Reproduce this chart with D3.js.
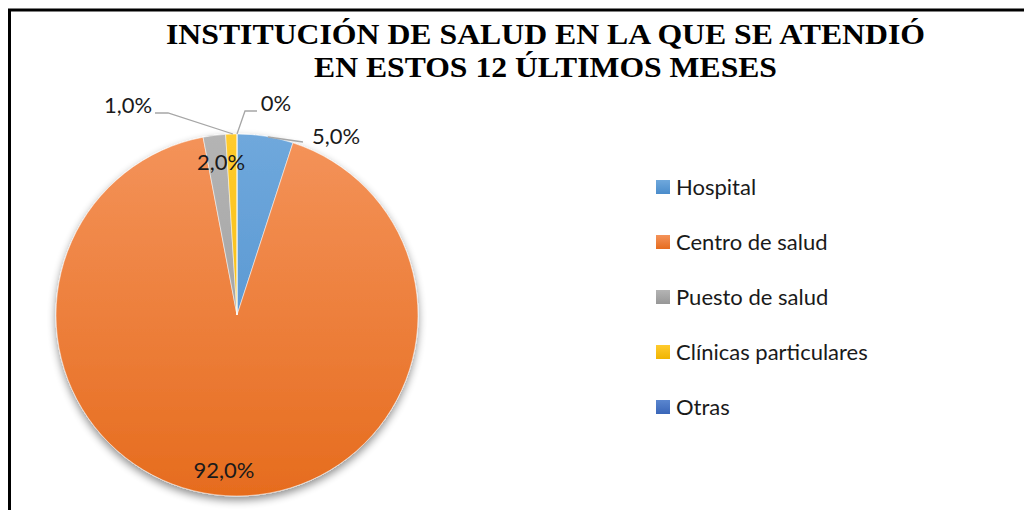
<!DOCTYPE html>
<html>
<head>
<meta charset="utf-8">
<script src="https://cdn.jsdelivr.net/npm/d3@7"></script>
<style>
  html, body { margin: 0; padding: 0; background: #fff; }
  svg { display: block; }
</style>
</head>
<body>
<div id="chart"></div>
<script>
const categories = ["Hospital", "Centro de salud", "Puesto de salud", "Clínicas particulares", "Otras"]
const values = [5.0, 92.0, 2.0, 1.0, 0.0]
const valueLabels = ["5,0%", "92,0%", "2,0%", "1,0%", "0%"]
const titleLines = ["INSTITUCIÓN DE SALUD EN LA QUE SE ATENDIÓ", "EN ESTOS 12 ÚLTIMOS MESES"]

// light / dark ends of each slice gradient
const colorsLight = ["#6fa8dc", "#f4935a", "#b4b4b4", "#ffcb2e", "#5a86cf"]
const colorsDark = ["#4a8ccb", "#e66c1e", "#979797", "#f0b400", "#3a66b8"]

const WIDTH = 1024, HEIGHT = 510
const CX = 237, CY = 315, R = 181

// label placement: offset from pie centre, plus optional leader line bend
const labelPlace = [
  { dx: 99, dy: -179, leader: [[31, -178], [66, -173]] },
  { dx: -13, dy: 155 },
  { dx: -16, dy: -153 },
  { dx: -109, dy: -210, leader: [[-4, -181], [-69, -202], [-82, -202]] },
  { dx: 39, dy: -212, leader: [[0, -181], [8, -204], [20, -204]] }
]

const svg = d3.select("#chart").append("svg")
  .attr("width", WIDTH)
  .attr("height", HEIGHT)

const defs = svg.append("defs")
categories.forEach((c, i) => {
  const g = defs.append("linearGradient")
    .attr("id", "grad" + i)
    .attr("gradientUnits", "userSpaceOnUse")
    .attr("x1", 0).attr("y1", -R).attr("x2", 0).attr("y2", R)
  g.append("stop").attr("offset", "0%").attr("stop-color", colorsLight[i])
  g.append("stop").attr("offset", "100%").attr("stop-color", colorsDark[i])
  const lg = defs.append("linearGradient")
    .attr("id", "lgrad" + i)
    .attr("x1", 0).attr("y1", 0).attr("x2", 0).attr("y2", 1)
  lg.append("stop").attr("offset", "0%").attr("stop-color", colorsLight[i])
  lg.append("stop").attr("offset", "100%").attr("stop-color", colorsDark[i])
})

const shadow = defs.append("filter").attr("id", "shadow")
  .attr("x", "-20%").attr("y", "-20%").attr("width", "140%").attr("height", "140%")
shadow.append("feGaussianBlur").attr("in", "SourceAlpha").attr("stdDeviation", 4)
shadow.append("feOffset").attr("dx", 0).attr("dy", 4).attr("result", "ob")
shadow.append("feComponentTransfer").append("feFuncA").attr("type", "linear").attr("slope", 0.45)
const merge = shadow.append("feMerge")
merge.append("feMergeNode")
merge.append("feMergeNode").attr("in", "SourceGraphic")

// frame (runs off right and bottom edge)
svg.append("rect")
  .attr("x", 9.5).attr("y", 10)
  .attr("width", WIDTH + 20).attr("height", HEIGHT + 20)
  .attr("fill", "none")
  .attr("stroke", "#000")
  .attr("stroke-width", 3)

// title
svg.append("g").selectAll("text")
  .data(titleLines)
  .join("text")
    .attr("x", 545.5)
    .attr("y", (d, i) => 43.5 + i * 33)
    .attr("text-anchor", "middle")
    .attr("font-family", "'Liberation Serif', 'Times New Roman', serif")
    .attr("font-weight", "bold")
    .attr("font-size", 30)
    .attr("textLength", (d, i) => i === 0 ? 759 : 463)
    .attr("lengthAdjust", "spacingAndGlyphs")
    .attr("fill", "#000")
    .text(d => d)

const pie = d3.pie().sort(null).value(d => d)
const arcs = pie(values)
const arc = d3.arc().innerRadius(0).outerRadius(R)

const g = svg.append("g").attr("transform", `translate(${CX}, ${CY})`)

const slices = g.append("g").attr("filter", "url(#shadow)")
slices.selectAll("path")
  .data(arcs)
  .join("path")
    .attr("d", arc)
    .attr("fill", (d, i) => `url(#grad${i})`)
    .attr("stroke", "#fff")
    .attr("stroke-width", 0.5)

// leader lines
g.selectAll("polyline")
  .data(arcs.map((d, i) => ({ d, p: labelPlace[i] })).filter(o => o.p.leader))
  .join("polyline")
    .attr("points", o => o.p.leader.map(pt => pt.join(",")).join(" "))
    .attr("fill", "none")
    .attr("stroke", "#a6a6a6")
    .attr("stroke-width", 1.3)

g.selectAll("text.lbl")
  .data(arcs)
  .join("text")
    .attr("class", "lbl")
    .attr("x", (d, i) => labelPlace[i].dx)
    .attr("y", (d, i) => labelPlace[i].dy)
    .attr("dy", "0.35em")
    .attr("text-anchor", "middle")
    .attr("font-family", "Lato, 'Open Sans', sans-serif")
    .attr("font-size", 22)
    .attr("fill", "#1a1a1a")
    .text((d, i) => valueLabels[i])

// legend
const legend = svg.append("g").attr("transform", "translate(656, 187)")
const items = legend.selectAll("g")
  .data(categories)
  .join("g")
    .attr("transform", (d, i) => `translate(0, ${i * 55})`)
items.append("rect")
  .attr("x", 0).attr("y", -7)
  .attr("width", 14).attr("height", 14)
  .attr("fill", (d, i) => `url(#lgrad${i})`)
items.append("text")
  .attr("x", 20)
  .attr("y", 0)
  .attr("dy", "0.35em")
  .attr("font-family", "Lato, 'Open Sans', sans-serif")
  .attr("font-size", 22)
  .attr("fill", "#1a1a1a")
  .text(d => d)
</script>
</body>
</html>
